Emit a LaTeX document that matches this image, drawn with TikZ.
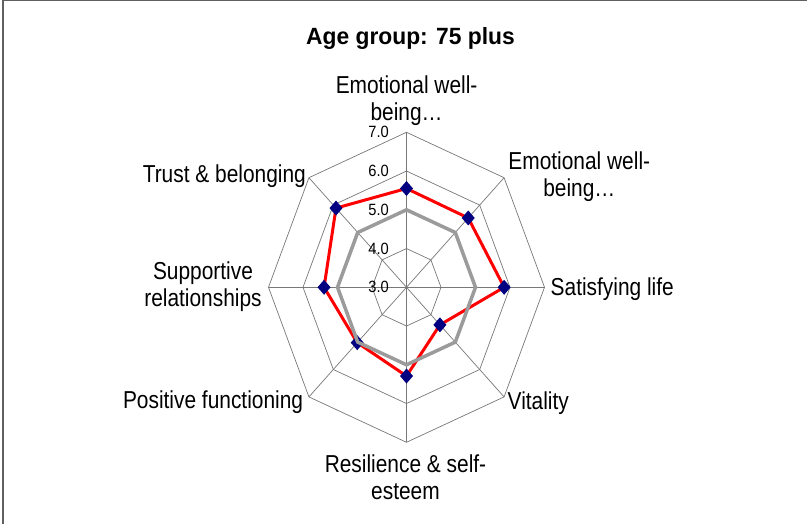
\documentclass[tikz,border=0pt]{standalone}
\usepackage{fontspec}
\setmainfont{Liberation Sans}
\newfontfamily\lblfont[FakeStretch=0.853]{Liberation Sans}
\newfontfamily\titlefont[FakeStretch=0.97]{Liberation Sans}
\newfontfamily\tickfont[FakeStretch=0.9]{Liberation Sans}
\definecolor{navyblue}{RGB}{0,0,128}
\definecolor{gridgray}{RGB}{120,120,120}
\definecolor{seriesgray}{RGB}{155,155,155}
\definecolor{framegray}{RGB}{96,96,96}
\begin{document}
\begin{tikzpicture}[x=1pt,y=-1pt,
  gridline/.style={draw=gridgray, line width=0.7pt},
  redseries/.style={draw=red, line width=3pt, line join=miter},
  grayseries/.style={draw=seriesgray, line width=3.5pt, line join=miter},
  axislabel/.style={font=\lblfont\fontsize{24.5}{27}\selectfont, inner sep=0pt, align=center},
  ticklabel/.style={font=\tickfont\fontsize{16.3}{18}\selectfont, inner sep=0pt, anchor=east},
  marker/.style={fill=navyblue}]
\useasboundingbox (0,0) rectangle (807,524);
\fill[white] (0,0) rectangle (807,524);
\def\cx{406.5}
\def\cy{287.3}
\coordinate (C) at (\cx,\cy);
% frame
\draw[framegray, line width=1.3pt] (3,524) -- (3,0.65) -- (807,0.65);
% title
\node[font=\titlefont\bfseries\fontsize{23.5}{28}\selectfont, anchor=base, inner sep=0pt] (title) at (410.5,45) {Age group: 75 plus};
% grid rings
\foreach \k in {1,...,4}{
  \foreach \i in {0,...,7}{
    \coordinate (g\k-\i) at ({\cx+34.5*\k*sin(45*\i)},{\cy-38.75*\k*cos(45*\i)});
  }
  \draw[gridline] (g\k-0) -- (g\k-1) -- (g\k-2) -- (g\k-3) -- (g\k-4) -- (g\k-5) -- (g\k-6) -- (g\k-7) -- cycle;
}
\foreach \i in {0,...,7}{
  \draw[gridline] (C) -- (g4-\i);
}
% tick labels
\foreach \k/\t in {0/3.0,1/4.0,2/5.0,3/6.0,4/7.0}{
  \node[ticklabel] (t\k) at (389,{\cy-38.75*\k}) {\t};
}
% data points
\foreach \v [count=\i from 0] in {5.55,5.53,5.83,4.37,5.29,5.02,5.39,5.89}{
  \coordinate (r\i) at ({\cx+34.5*(\v-3)*sin(45*\i)},{\cy-38.75*(\v-3)*cos(45*\i)});
}
\foreach \v [count=\i from 0] in {5,5,5,5,5,5,5,5}{
  \coordinate (s\i) at ({\cx+34.5*(\v-3)*sin(45*\i)},{\cy-38.75*(\v-3)*cos(45*\i)});
}
\draw[redseries] (r0) -- (r1) -- (r2) -- (r3) -- (r4) -- (r5) -- (r6) -- (r7) -- cycle;
\foreach \i in {0,...,7}{
  \fill[marker, shift={(r\i)}] (0,-7.5) -- (6.5,0) -- (0,7.5) -- (-6.5,0) -- cycle;
}
\draw[grayseries] (s0) -- (s1) -- (s2) -- (s3) -- (s4) -- (s5) -- (s6) -- (s7) -- cycle;
% axis labels
\node[axislabel, anchor=north] (lN) at (406.6,76) {Emotional well-\\being…};
\node[axislabel, anchor=north] (lNE) at (579.3,151.5) {Emotional well-\\being…};
\node[axislabel, anchor=base west] (lE) at (550.5,295) {Satisfying life};
\node[axislabel, anchor=base west] (lSE) at (507.5,409.5) {Vitality};
\node[axislabel, anchor=north] (lS) at (405.5,455) {Resilience \& self-\\esteem};
\node[axislabel, anchor=base east] (lSW) at (303.3,408) {Positive functioning};
\node[axislabel, anchor=north] (lW) at (203,261.5) {Supportive\\relationships};
\node[axislabel, anchor=base east] (lNW) at (306,183) {Trust \& belonging};
\end{tikzpicture}
\end{document}
